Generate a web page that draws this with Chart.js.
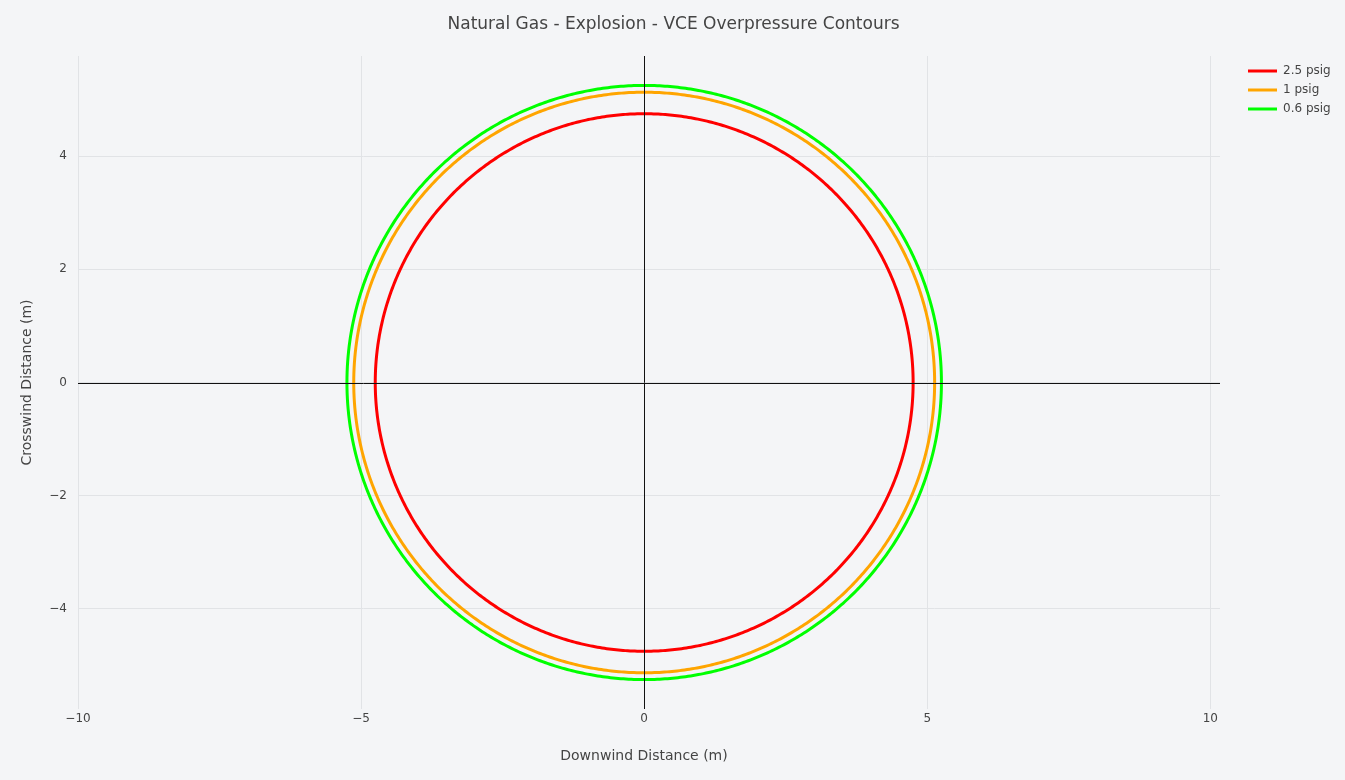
<!DOCTYPE html>
<html>
<head>
<meta charset="utf-8">
<script src="https://cdn.jsdelivr.net/npm/chart.js@4.4.1/dist/chart.umd.min.js"></script>
<style>
html,body{margin:0;padding:0;background:#f4f5f7;}
#wrap{width:1345px;height:780px;position:relative;}
</style>
</head>
<body>
<div id="wrap"><canvas id="c"></canvas></div>
<script>
// ---- data ----
const chartTitle = 'Natural Gas - Explosion - VCE Overpressure Contours';
const seriesLabels = ['2.5 psig', '1 psig', '0.6 psig'];
const contourRadii = [4.75, 5.13, 5.25];          // metres
const seriesColors = ['#ff0000', '#ffa500', '#00ff00'];
const xTicks = [-10, -5, 0, 5, 10];
const yTicks = [-4, -2, 0, 2, 4];
const xRange = [-10.0, 10.17];
const yRange = [-5.77, 5.77];
const xTitle = 'Downwind Distance (m)';
const yTitle = 'Crosswind Distance (m)';

// contour outline: points on circle of given radius
function contour(r) {
  const pts = [];
  for (let d = 0; d <= 360; d++) {
    const a = d * Math.PI / 180;
    pts.push({ x: r * Math.cos(a), y: r * Math.sin(a) });
  }
  return pts;
}

const BG = '#f4f5f7';
const TXT = '#444';
const FONT = "'DejaVu Sans', Verdana, sans-serif";
Chart.defaults.font.family = FONT;
Chart.defaults.color = TXT;

const fmt = v => String(v).replace('-', '\u2212');

const bgPlugin = {
  id: 'bg',
  beforeDraw(chart) {
    const c = chart.ctx;
    c.save(); c.fillStyle = BG; c.fillRect(0, 0, chart.width, chart.height); c.restore();
  }
};

const zeroPlugin = {
  id: 'zero',
  afterDatasetsDraw(chart) {
    const c = chart.ctx, a = chart.chartArea;
    const x0 = Math.round(chart.scales.x.getPixelForValue(0)) + 0.5;
    const y0 = Math.round(chart.scales.y.getPixelForValue(0)) + 0.5;
    c.save();
    c.strokeStyle = '#111'; c.lineWidth = 1;
    c.beginPath();
    c.moveTo(x0, a.top); c.lineTo(x0, a.bottom);
    c.moveTo(a.left, y0); c.lineTo(a.right, y0);
    c.stroke();
    c.restore();
  }
};

const decorPlugin = {
  id: 'decor',
  afterDraw(chart) {
    const c = chart.ctx;
    c.save();
    // title
    c.fillStyle = TXT;
    c.font = '17px ' + FONT;
    c.textAlign = 'center'; c.textBaseline = 'middle';
    c.fillText(chartTitle, chart.width / 2 + 1, 25);
    // x-axis title
    c.font = '14px ' + FONT;
    c.fillText(xTitle, 644, 756);
    // legend
    c.font = '12px ' + FONT;
    c.textAlign = 'left';
    chart.data.datasets.forEach((ds, i) => {
      const y = 71 + i * 19;
      c.strokeStyle = ds.borderColor; c.lineWidth = 3;
      c.beginPath(); c.moveTo(1248, y); c.lineTo(1277, y); c.stroke();
      c.fillStyle = TXT;
      c.fillText(ds.label, 1283, y);
    });
    c.restore();
  }
};

new Chart(document.getElementById('c'), {
  type: 'scatter',
  data: {
    datasets: seriesLabels.map((lab, i) => ({
      label: lab,
      data: contour(contourRadii[i]),
      borderColor: seriesColors[i],
      backgroundColor: seriesColors[i],
      borderWidth: 3,
      borderJoinStyle: 'round',
      borderCapStyle: 'round',
      showLine: true,
      pointRadius: 0,
      pointHoverRadius: 0,
      tension: 0.001,
      fill: false
    }))
  },
  options: {
    responsive: true,
    maintainAspectRatio: false,
    animation: false,
    devicePixelRatio: 1,
    layout: { padding: { top: 56, right: 125, left: 0, bottom: 0 } },
    plugins: {
      legend: { display: false },
      title: { display: false },
      tooltip: { enabled: false }
    },
    scales: {
      x: {
        type: 'linear',
        min: xRange[0], max: xRange[1],
        afterBuildTicks: s => { s.ticks = xTicks.map(v => ({ value: v })); },
        afterFit: s => { s.height = 71; },
        grid: { color: '#e1e3e6', lineWidth: 1, drawTicks: false },
        border: { display: false },
        ticks: { callback: fmt, padding: 3, font: { size: 12 }, color: TXT, maxRotation: 0 },
        title: { display: false }
      },
      y: {
        type: 'linear',
        min: yRange[0], max: yRange[1],
        afterBuildTicks: s => { s.ticks = yTicks.map(v => ({ value: v })); },
        afterFit: s => { s.width = 78; },
        grid: { color: '#e1e3e6', lineWidth: 1, drawTicks: false },
        border: { display: false },
        ticks: { callback: fmt, padding: 11, font: { size: 12 }, color: TXT },
        title: { display: true, text: yTitle, font: { size: 14 }, color: TXT, padding: { top: 19, bottom: 0 } }
      }
    }
  },
  plugins: [bgPlugin, zeroPlugin, decorPlugin]
});
</script>
</body>
</html>
